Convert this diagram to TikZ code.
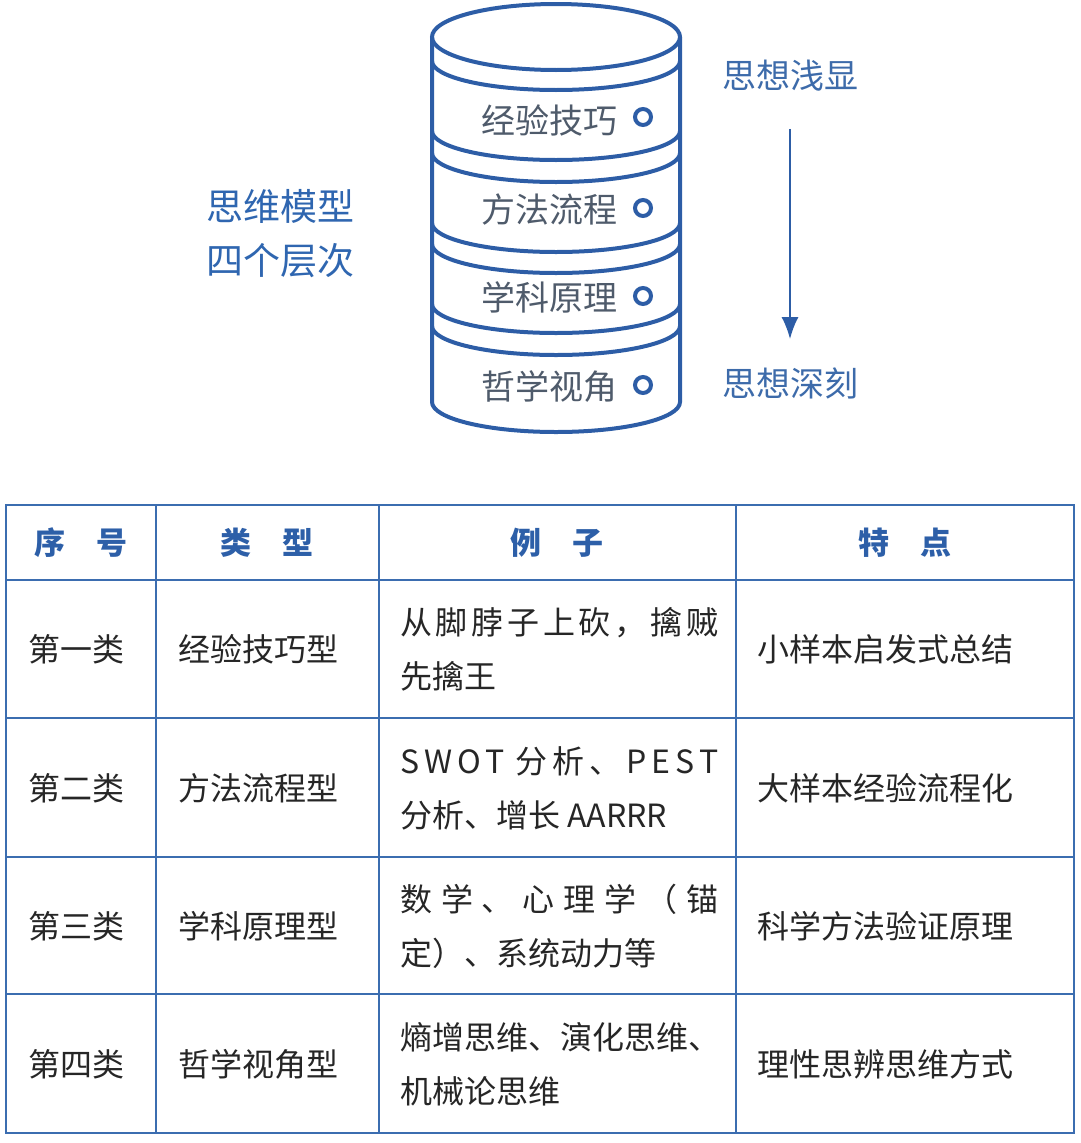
\documentclass[tikz,border=0pt]{standalone}
\usepackage{fontspec}
\setmainfont{Noto Sans CJK SC}
\usepackage{tikz}
\usetikzlibrary{arrows.meta}

\definecolor{cylblue}{HTML}{2D5DA6}
\definecolor{layergray}{HTML}{4F5B6B}
\definecolor{hintblue}{HTML}{3D6BAA}
\definecolor{titleblue}{HTML}{2F66B0}
\definecolor{headblue}{HTML}{2D5FA8}
\definecolor{cellgray}{HTML}{262626}
\definecolor{tableblue}{HTML}{3B6DB0}

\begin{document}
\begin{tikzpicture}[x=1pt,y=1pt]
  \tikzstyle{rim}=[draw=cylblue,line width=4pt]
  \tikzstyle{layer}=[text=layergray,font=\fontsize{34}{40}\selectfont,inner sep=0pt]
  \tikzstyle{ring}=[circle,draw=cylblue,line width=4pt,minimum size=16pt,inner sep=0pt]
  \tikzstyle{hint}=[text=hintblue,font=\fontsize{34}{40}\selectfont,inner sep=0pt]
  \tikzstyle{pointer}=[draw=cylblue,line width=2pt,-{Latex[length=22pt,width=17pt]}]
  \tikzstyle{title}=[text=titleblue,font=\fontsize{37}{54}\selectfont,align=center,inner sep=0pt]
  \tikzstyle{grid}=[draw=tableblue,line width=2pt]
  \tikzstyle{head}=[text=headblue,font=\fontsize{31}{40}\selectfont\bfseries,inner sep=0pt]
  \tikzstyle{cell}=[anchor=west,text=cellgray,font=\fontsize{32}{54}\selectfont,align=left,inner sep=0pt]
  \useasboundingbox (0,0) rectangle (1080,-1143);
  \draw (556,-220) node (c){};

  \draw[rim] (556,-37) ellipse[x radius=124,y radius=33];
  \draw[rim] (432,-37) -- (432,-402) arc[start angle=180,end angle=360,x radius=124,y radius=30] -- (680,-37);
  \draw[rim] (432,-61) arc[start angle=180,end angle=360,x radius=124,y radius=29];
  \draw[rim] (432,-131) arc[start angle=180,end angle=360,x radius=124,y radius=29];
  \draw[rim] (432,-153) arc[start angle=180,end angle=360,x radius=124,y radius=29];
  \draw[rim] (432,-223) arc[start angle=180,end angle=360,x radius=124,y radius=29];
  \draw[rim] (432,-244) arc[start angle=180,end angle=360,x radius=124,y radius=29];
  \draw[rim] (432,-304) arc[start angle=180,end angle=360,x radius=124,y radius=29];
  \draw[rim] (432,-326) arc[start angle=180,end angle=360,x radius=124,y radius=29];

  \draw (c)++(-7,100) node[layer] (L1){经验技巧};
  \draw (c)++(-7,10) node[layer] (L2){方法流程};
  \draw (c)++(-7,-77) node[layer] (L3){学科原理};
  \draw (c)++(-7,-167) node[layer] (L4){哲学视角};

  \draw (c)++(87,103) node[ring] (R1){};
  \draw (c)++(87,12) node[ring] (R2){};
  \draw (c)++(87,-76) node[ring] (R3){};
  \draw (c)++(87,-165) node[ring] (R4){};

  \draw (c)++(234,144) node[hint] (U){思想浅显};
  \draw (c)++(234,-163) node[hint] (D){思想深刻};
  \draw[pointer,shorten <=37pt,shorten >=28pt] (U) -- (D);

  \draw (c)++(-276,-14) node[title] (T){思维模型\\四个层次};

  \draw[grid] (6,-505) rectangle (1074,-1133);
  \draw[grid] (156,-505) -- (156,-1133);
  \draw[grid] (379,-505) -- (379,-1133);
  \draw[grid] (736,-505) -- (736,-1133);
  \draw[grid] (6,-580) -- (1074,-580);
  \draw[grid] (6,-718) -- (1074,-718);
  \draw[grid] (6,-857) -- (1074,-857);
  \draw[grid] (6,-994) -- (1074,-994);

  \node[head] (h1) at (81,-543) {序　号};
  \node[head] (h2) at (267,-543) {类　型};
  \node[head] (h3) at (557,-543) {例　子};
  \node[head] (h4) at (905,-543) {特　点};

  \node[cell] (a1) at (28,-649) {第一类};
  \node[cell] (a2) at (28,-788) {第二类};
  \node[cell] (a3) at (28,-926) {第三类};
  \node[cell] (a4) at (28,-1064) {第四类};

  \node[cell] (b1) at (178,-649) {经验技巧型};
  \node[cell] (b2) at (178,-788) {方法流程型};
  \node[cell] (b3) at (178,-926) {学科原理型};
  \node[cell] (b4) at (178,-1064) {哲学视角型};

  \node[cell] (e1) at (400,-649) {\makebox[318pt][s]{从\hfill 脚\hfill 脖\hfill 子\hfill 上\hfill 砍\hfill ，\hfill 擒\hfill 贼}\\先擒王};
  \node[cell] (e2) at (400,-788) {\makebox[318pt][s]{S\hfill W\hfill O\hfill T\hfill\hspace{6pt}分\hfill 析\hfill 、\hfill P\hfill E\hfill S\hfill T}\\分析、增长 AARRR};
  \node[cell] (e3) at (400,-926) {\makebox[318pt][s]{数\hfill 学\hfill 、\hfill 心\hfill 理\hfill 学\hfill （\hfill 锚}\\定）、系统动力等};
  \node[cell] (e4) at (400,-1064) {熵增思维、演化思维、\\机械论思维};

  \node[cell] (f1) at (757,-649) {小样本启发式总结};
  \node[cell] (f2) at (757,-788) {大样本经验流程化};
  \node[cell] (f3) at (757,-926) {科学方法验证原理};
  \node[cell] (f4) at (757,-1064) {理性思辨思维方式};
\end{tikzpicture}
\end{document}
